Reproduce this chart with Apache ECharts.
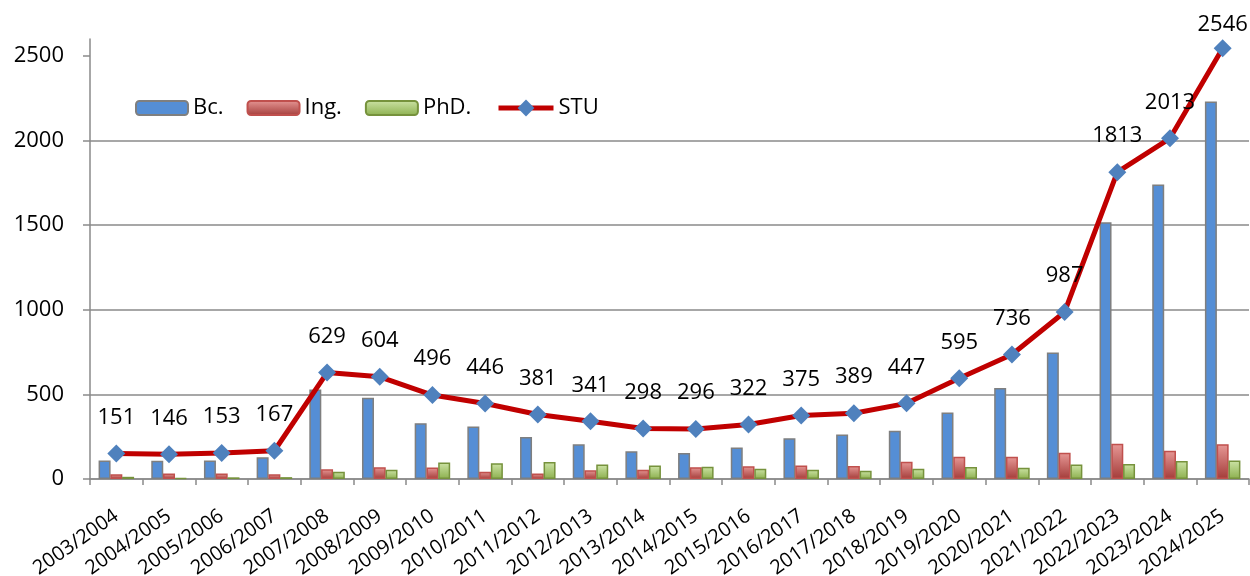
<!DOCTYPE html>
<html>
<head>
<meta charset="utf-8">
<script src="https://cdn.jsdelivr.net/npm/echarts@6/dist/echarts.min.js"></script>
<style>
    html, body { margin: 0; padding: 0; background: #fff; }
    #chart { width: 1250px; height: 576px; }
</style>
</head>
<body>
<div id="chart"></div>
<script>
const years = ['2003/2004', '2004/2005', '2005/2006', '2006/2007', '2007/2008', '2008/2009', '2009/2010', '2010/2011',
    '2011/2012', '2012/2013', '2013/2014', '2014/2015', '2015/2016', '2016/2017', '2017/2018', '2018/2019',
    '2019/2020', '2020/2021', '2021/2022', '2022/2023', '2023/2024', '2024/2025'];
const bcValues = [110, 108, 110, 128, 529, 480, 330, 310, 248, 205, 164, 154, 186, 241, 263, 285, 393, 538, 747, 1517, 1740, 2230];
const ingValues = [28, 33, 33, 28, 57, 70, 68, 43, 33, 51, 54, 70, 75, 80, 77, 102, 131, 131, 155, 208, 167, 206];
const phdValues = [13, 5, 10, 11, 43, 54, 98, 93, 100, 85, 80, 72, 61, 54, 49, 60, 71, 67, 85, 88, 106, 110];
const stuValues = [151, 146, 153, 167, 629, 604, 496, 446, 381, 341, 298, 296, 322, 375, 389, 447, 595, 736, 987, 1813, 2013, 2546];
const yTicks = [0, 500, 1000, 1500, 2000, 2500];

const FONT = '"Open Sans", "Liberation Sans", sans-serif';
const axisGray = '#8a8a8a';

function vGrad(top, bottom) {
    return new echarts.graphic.LinearGradient(0, 0, 0, 1, [
        { offset: 0, color: top },
        { offset: 1, color: bottom }
    ]);
}

const chart = echarts.init(document.getElementById('chart'));

// the last point sits near the top edge, so its label is pulled closer
const stuData = stuValues.map((v, i) => i === stuValues.length - 1 ? { value: v, label: { distance: 3 } } : v);

const legendText = { fontSize: 22, color: '#000', fontFamily: FONT };

chart.setOption({
    animation: false,
    textStyle: { fontFamily: FONT },
    legend: [
        {
            left: 130,
            top: 92,
            itemWidth: 52,
            itemHeight: 14,
            itemGap: 23,
            textStyle: legendText,
            data: ['Bc.', 'Ing.', 'PhD.']
        },
        {
            left: 491,
            top: 92,
            itemWidth: 55,
            itemHeight: 21,
            textStyle: legendText,
            lineStyle: { width: 5 },
            data: ['STU']
        }
    ],
    grid: { left: 90, right: 1, top: 39, bottom: 97, outerBoundsMode: 'none' },
    xAxis: {
        type: 'category',
        data: years,
        axisLine: { lineStyle: { color: axisGray, width: 1.5 } },
        axisTick: { show: true, interval: 0, length: 6, lineStyle: { color: axisGray, width: 1.5 } },
        axisLabel: { interval: 0, rotate: 35, fontSize: 20, color: '#000', margin: 35, fontFamily: FONT }
    },
    yAxis: {
        type: 'value',
        min: 0,
        max: 2600,
        interval: 500,
        axisLine: { show: true, lineStyle: { color: axisGray, width: 1.5 } },
        axisTick: { show: true, length: 7, customValues: yTicks, lineStyle: { color: axisGray, width: 1.5 } },
        axisLabel: {
            fontSize: 22, color: '#000', margin: 26, customValues: yTicks, fontFamily: FONT,
            formatter: v => String(v)
        },
        splitLine: { show: true, showMaxLine: false, lineStyle: { color: axisGray, width: 1.5 } }
    },
    series: [
        {
            name: 'Bc.',
            type: 'bar',
            barWidth: 12,
            barGap: '-2%',
            data: bcValues,
            itemStyle: { color: '#558ed5', borderColor: '#7f7f7f', borderWidth: 1.5 }
        },
        {
            name: 'Ing.',
            type: 'bar',
            barWidth: 12,
            barGap: '-2%',
            data: ingValues,
            itemStyle: { color: vGrad('#e79896', '#a33c39'), borderColor: '#c0504d', borderWidth: 1.5 }
        },
        {
            name: 'PhD.',
            type: 'bar',
            barWidth: 12,
            barGap: '-2%',
            data: phdValues,
            itemStyle: { color: vGrad('#cde3a6', '#8cb04e'), borderColor: '#76923c', borderWidth: 1.5 }
        },
        {
            name: 'STU',
            type: 'line',
            data: stuData,
            z: 5,
            symbol: 'diamond',
            symbolSize: 18,
            lineStyle: { color: '#c00000', width: 5 },
            itemStyle: { color: '#4f81bd' },
            label: {
                show: true,
                position: 'top',
                distance: 16,
                fontSize: 22,
                color: '#000',
                fontFamily: FONT
            }
        }
    ]
});
</script>
</body>
</html>
